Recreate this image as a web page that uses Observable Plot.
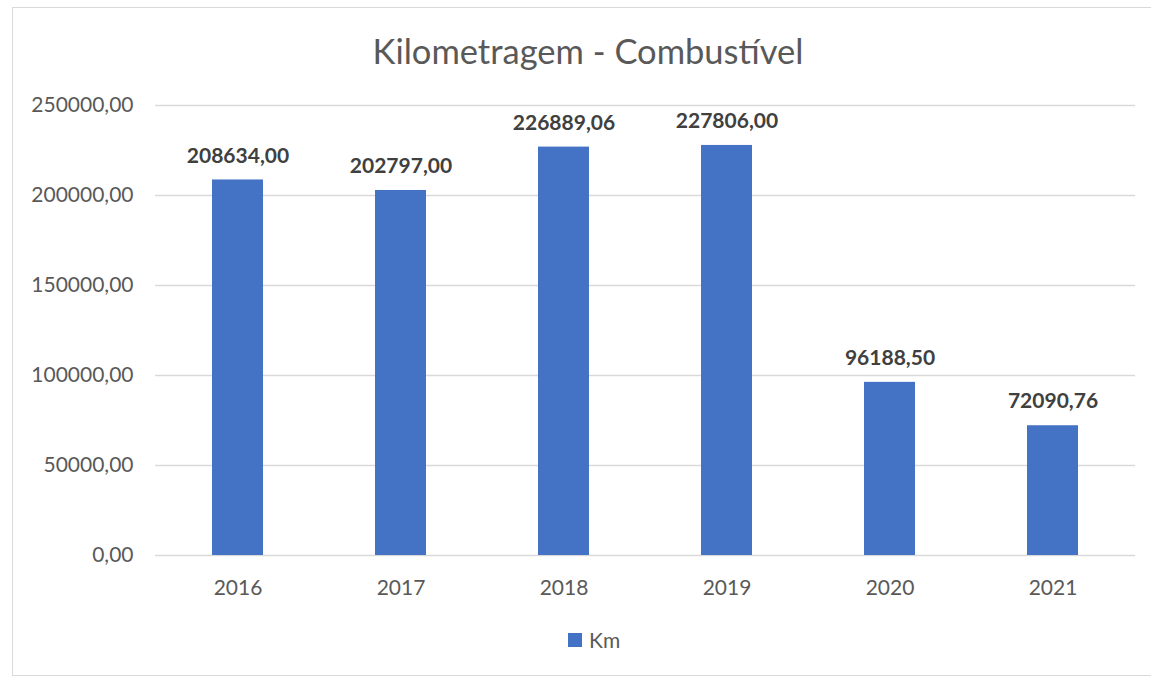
<!DOCTYPE html>
<html>
<head>
<meta charset="utf-8">
<script src="https://cdn.jsdelivr.net/npm/d3@7"></script>
<script src="https://cdn.jsdelivr.net/npm/@observablehq/plot@0.6"></script>
<style>
  html, body { margin: 0; padding: 0; background: #fff; }
  body { width: 1151px; height: 679px; position: relative; overflow: hidden; font-family: Lato, "Open Sans", sans-serif; }
  #frame { position: absolute; left: 12px; top: 7px; width: 1150px; height: 669px; border: 1px solid #d9d9d9; box-sizing: border-box; }
  #title { position: absolute; left: 12px; width: 1152px; top: 29px; text-align: center; font-size: 34.5px; color: #595959; line-height: 44px; }
  #chart { position: absolute; left: 0; top: 0; }
  #legend { position: absolute; left: 568px; top: 627px; font-size: 21px; color: #595959; display: flex; align-items: center; line-height: 26px; }
  #legend .sw { width: 14px; height: 14px; background: #4472C4; margin-right: 7px; }
</style>
</head>
<body>
<div id="frame"></div>
<div id="title">Kilometragem - Combustível</div>
<div id="chart"></div>
<div id="legend"><span class="sw"></span><span>Km</span></div>
<script>
const years = ["2016", "2017", "2018", "2019", "2020", "2021"];
const km = [208634.00, 202797.00, 226889.06, 227806.00, 96188.50, 72090.76];
const yTicks = [0, 50000, 100000, 150000, 200000, 250000];
const seriesName = "Km";

const data = years.map((y, i) => ({year: y, km: km[i], series: seriesName}));
const fmt = v => v.toFixed(2).replace(".", ",");

const chart = Plot.plot({
  width: 1151,
  height: 610,
  marginTop: 105,
  marginBottom: 55,
  marginLeft: 155,
  marginRight: 16,
  style: { fontFamily: "Lato, 'Open Sans', sans-serif", fontSize: "21px", color: "#595959", background: "transparent" },
  x: { domain: years, paddingInner: 0.69, paddingOuter: 0.345, label: null },
  y: { domain: [0, 250000], ticks: yTicks, label: null },
  marks: [
    Plot.ruleY(yTicks, { stroke: "#d9d9d9", strokeWidth: 1.5 }),
    Plot.barY(data, { x: "year", y: "km", fill: "#4472C4" }),
    Plot.axisX({ tickSize: 0, tickPadding: 25, fontSize: 21, fill: "#595959", label: null }),
    Plot.axisY(yTicks, { tickSize: 0, tickPadding: 22, tickFormat: fmt, fontSize: 21, fill: "#595959", label: null }),
    Plot.text(data, { x: "year", y: "km", text: d => fmt(d.km), dy: -24, fontWeight: "bold", fontSize: 21, fill: "#404040" })
  ]
});
document.getElementById("chart").appendChild(chart);
</script>
</body>
</html>
